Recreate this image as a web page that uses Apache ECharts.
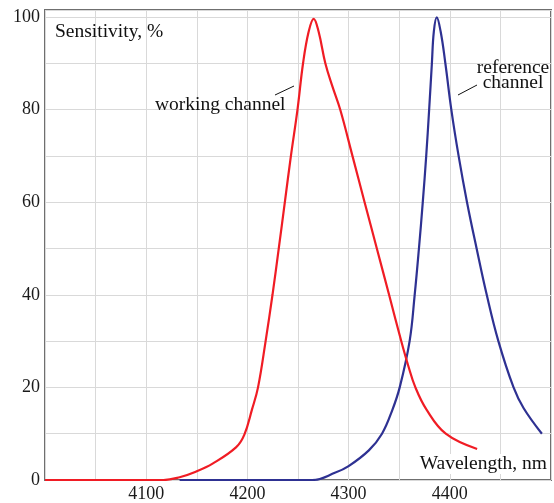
<!DOCTYPE html>
<html>
<head>
<meta charset="utf-8">
<script src="https://cdn.jsdelivr.net/npm/echarts@6/dist/echarts.min.js"></script>
<style>
html,body{margin:0;padding:0;background:#fff;}
#chart{width:554px;height:503px;}
</style>
</head>
<body>
<div id="chart"></div>
<script>
// Wavelength (nm) / sensitivity (%) pairs
const workingWavelength = [4000, 4117, 4133, 4149, 4166, 4189, 4197, 4204.5, 4210.5, 4218, 4224.8, 4231, 4237, 4243, 4249.5, 4255, 4260.5, 4265.5, 4270.4, 4277, 4284, 4291.7, 4303.8, 4315.8, 4327.9, 4340, 4352, 4358.5, 4366, 4377, 4396, 4427];
const workingSensitivity = [0, 0, 0.6, 1.8, 3.6, 7.1, 9.8, 15.2, 20, 30, 40, 50, 60, 70, 80, 90, 96.8, 99.6, 96.8, 90, 85, 80, 70, 60, 50, 40, 30, 25, 20, 15.2, 10, 6.7];

const referenceWavelength = [4133, 4264, 4287, 4300, 4320, 4333, 4343, 4350.5, 4360.3, 4365.3, 4369.5, 4373.3, 4376.7, 4379.6, 4382.3, 4384.2, 4387.1, 4391, 4395.6, 4401.5, 4408.7, 4417, 4426.5, 4436.5, 4448, 4463, 4473, 4491];
const referenceSensitivity = [0, 0, 1.6, 3.0, 6.4, 10, 15, 20, 30, 40, 50, 60, 70, 80, 90, 96.8, 99.9, 96.8, 90, 80, 70, 60, 50, 40, 30, 20, 15.5, 10];

const xTickLabels = [4100, 4200, 4300, 4400];
const yTickLabels = [0, 20, 40, 60, 80, 100];

const FONT = '"Liberation Serif", "Times New Roman", serif';

function pairs(xs, ys) { return xs.map((x, i) => [x, ys[i]]); }

const chart = echarts.init(document.getElementById('chart'), null, {renderer: 'canvas'});
chart.setOption({
  animation: false,
  backgroundColor: '#ffffff',
  grid: {
    left: 45, right: 2, top: 10, bottom: 22,
    show: true, borderColor: '#6f6f6f', borderWidth: 2, backgroundColor: 'transparent'
  },
  xAxis: {
    type: 'value', min: 4000, max: 4500, interval: 50,
    axisLine: {show: false}, axisTick: {show: false},
    splitLine: {show: true, lineStyle: {color: '#d9d9d9', width: 1}},
    axisLabel: {
      margin: 5, color: '#1a1a1a', fontFamily: FONT, fontSize: 18,
      formatter: v => xTickLabels.indexOf(v) >= 0 ? String(v) : ''
    }
  },
  yAxis: {
    type: 'value', min: 0, max: 101.5, interval: 10,
    axisLine: {show: false}, axisTick: {show: false},
    splitLine: {show: true, lineStyle: {color: '#d9d9d9', width: 1}},
    axisLabel: {
      margin: 5, color: '#1a1a1a', fontFamily: FONT, fontSize: 18,
      formatter: v => yTickLabels.indexOf(v) >= 0 ? String(v) : ''
    }
  },
  series: [
    {
      name: 'reference channel', type: 'line', data: pairs(referenceWavelength, referenceSensitivity),
      showSymbol: false, smooth: 0.4,
      lineStyle: {color: '#2e3192', width: 2.2}, z: 2
    },
    {
      name: 'working channel', type: 'line', data: pairs(workingWavelength, workingSensitivity),
      showSymbol: false, smooth: 0.4,
      lineStyle: {color: '#f01c24', width: 2.2}, z: 3
    }
  ],
  graphic: [
    {type: 'text', left: 55, top: 22, z: 10, style: {text: 'Sensitivity, %', font: '19.5px ' + FONT, fill: '#111'}},
    {type: 'text', right: 7, top: 454, z: 10, style: {text: 'Wavelength, nm', font: '19.5px ' + FONT, fill: '#111', backgroundColor: '#fff'}},
    {type: 'text', left: 155, top: 95, z: 10, style: {text: 'working channel', font: '19.5px ' + FONT, fill: '#111'}},
    {type: 'text', x: 513, y: 68, z: 10, style: {text: 'reference', font: '19.5px ' + FONT, fill: '#111', align: 'center', verticalAlign: 'middle'}},
    {type: 'text', x: 513, y: 83, z: 10, style: {text: 'channel', font: '19.5px ' + FONT, fill: '#111', align: 'center', verticalAlign: 'middle'}},
    {type: 'line', z: 10, shape: {x1: 275, y1: 95, x2: 294, y2: 86}, style: {stroke: '#111', lineWidth: 1}},
    {type: 'line', z: 10, shape: {x1: 458, y1: 95, x2: 477, y2: 85}, style: {stroke: '#111', lineWidth: 1}}
  ]
});
</script>
</body>
</html>
